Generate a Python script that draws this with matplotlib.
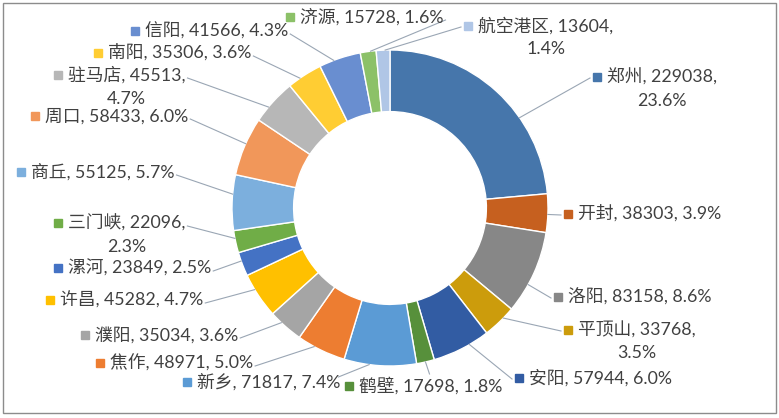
import matplotlib

matplotlib.use("Agg")
import matplotlib.pyplot as plt
import numpy as np
from matplotlib.patches import Rectangle

names = ["郑州", "开封", "洛阳", "平顶山", "安阳", "鹤壁", "新乡", "焦作", "濮阳", "许昌",
         "漯河", "三门峡", "商丘", "周口", "驻马店", "南阳", "信阳", "济源", "航空港区"]
values = [229038, 38303, 83158, 33768, 57944, 17698, 71817, 48971, 35034, 45282,
          23849, 22096, 55125, 58433, 45513, 35306, 41566, 15728, 13604]
colors = ["#4676AB", "#C6601F", "#878787", "#CC9C0C", "#325CA3", "#57903B",
          "#5B9BD5", "#ED7D31", "#A5A5A5", "#FFC000", "#4472C4", "#70AD47",
          "#7CAFDD", "#F1975A", "#B7B7B7", "#FFCD33", "#698ED0", "#8CC168", "#B0C6E6"]

# label layout in pixels: marker centre x, y, wrapped onto two lines, leader end style
label_layout = [
    (597, 77, True, "r"), (568, 214, False, "r"), (558, 297, False, "r"),
    (568, 330, True, "r"), (519, 378, False, "r"), (349, 386, False, "t"),
    (187, 382, False, "lt"), (100, 363, False, "l"), (85, 335, False, "l"),
    (50, 300, False, "l"), (58, 268, False, "l"), (58, 223, True, "l"),
    (21, 172, False, "l"), (35, 116, False, "l"), (58, 75, True, "l"),
    (98, 53, False, "l"), (135, 31, False, "l"), (290, 17, False, "l"),
    (468, 26, True, "r"),
]

W, H = 779, 418
CX, CY, R = 390, 208, 158
HOLE = 0.61
PAD = 1.05
FONT = ["Lato", "Noto Sans CJK SC"]
FS = 12.8
TEXT_COLOR = "#404040"
LINE_COLOR = "#9AA6B4"

fig = plt.figure(figsize=(W / 100, H / 100), dpi=100)
ax = fig.add_axes([(CX - R * PAD) / W, (H - CY - R * PAD) / H, 2 * R * PAD / W, 2 * R * PAD / H])
wedges, _ = ax.pie(values, colors=colors, startangle=90, counterclock=False,
                   wedgeprops=dict(width=1 - HOLE, edgecolor="white", linewidth=1))
ax.set_xlim(-PAD, PAD)
ax.set_ylim(-PAD, PAD)
ax.set_aspect("equal")
ax.axis("off")

lab = fig.add_axes([0, 0, 1, 1])
lab.set_xlim(0, W)
lab.set_ylim(H, 0)
lab.axis("off")
lab.add_patch(Rectangle((3, 3), W - 6, H - 8, fill=False, ec="#8C8C8C", lw=1))

renderer = fig.canvas.get_renderer()
total = sum(values)


def to_px(x, y):
    return lab.transData.inverted().transform(ax.transData.transform((x, y)))


for name, val, col, wedge, (mx, my, wrap, side) in zip(names, values, colors, wedges, label_layout):
    pct = f"{val / total * 100:.1f}%"
    line1 = f"{name}, {val}," if wrap else f"{name}, {val}, {pct}"
    lab.plot(mx, my, marker="s", ms=5.5, color=col, mec=col)
    t = lab.text(mx + 10, my, line1, ha="left", va="center", fontsize=FS,
                 family=FONT, color=TEXT_COLOR)
    bb = t.get_window_extent(renderer)
    x0, x1 = bb.x0, bb.x1
    if wrap:
        lab.text((x0 + x1) / 2, my + 23.5, pct, ha="center", va="center", fontsize=FS,
                 family=FONT, color=TEXT_COLOR)

    # leader line end next to the label
    if side == "r":
        ex, ey = mx - 7, my + 1
    elif side == "l":
        ex, ey = x1 + 2, my + 3
    elif side == "lt":
        ex, ey = x1 - 2, my - 5
    else:
        ex, ey = None, my - 12

    # leader line start on the outer edge of the wedge
    t1, t2 = wedge.theta1, wedge.theta2
    span = t2 - t1
    mid = (t1 + t2) / 2
    if ex is None:
        ang = mid
    else:
        ang = np.degrees(np.arctan2(CY - ey, ex - CX))
        ang += 360 * np.round((mid - ang) / 360)
        ang = np.clip(ang, t1 + 0.35 * span, t2 - 0.35 * span)
    sx, sy = to_px(np.cos(np.radians(ang)), np.sin(np.radians(ang)))
    if ex is None:
        ex = sx + 4
    lab.plot([sx, ex], [sy, ey], color=LINE_COLOR, lw=0.8)

fig.savefig("out.png", dpi=100)
